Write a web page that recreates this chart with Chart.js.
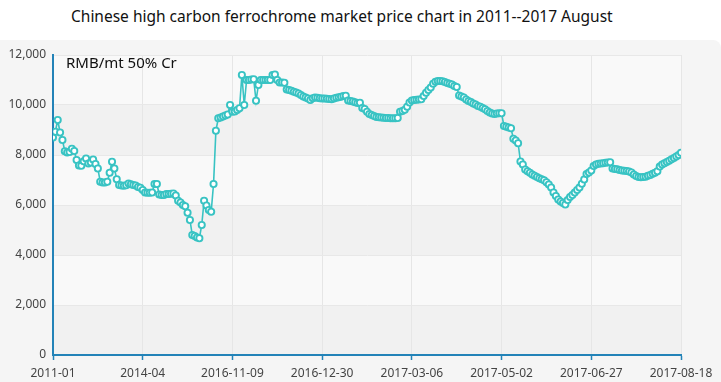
<!DOCTYPE html>
<html>
<head>
<meta charset="utf-8">
<script src="https://cdn.jsdelivr.net/npm/chart.js@4/dist/chart.umd.min.js"></script>
<style>
html,body{margin:0;padding:0;background:#fff;}
#wrap{position:relative;width:721px;height:382px;overflow:hidden;background:#fff;}
#title{position:absolute;left:71px;top:5px;font-family:'Noto Sans',sans-serif;font-size:15.5px;color:#111;white-space:nowrap;}
#panel{position:absolute;left:0;top:40px;width:721px;height:342px;background:#f5f5f5;border-top-right-radius:8px;}
#unit{position:absolute;left:66px;top:52px;font-family:'Noto Sans',sans-serif;font-size:15px;color:#111;white-space:nowrap;}
</style>
</head>
<body>
<div id="wrap">
  <div id="title">Chinese high carbon ferrochrome market price chart in 2011--2017 August</div>
  <div id="panel"><canvas id="c" width="721" height="342"></canvas></div>
  <div id="unit">RMB/mt 50% Cr</div>
</div>
<script>
// Tick labels shown on the category (x) axis, one every labelStep points
const tickLabels = ['2011-01','2014-04','2016-11-09','2016-12-30','2017-03-06','2017-05-02','2017-06-27','2017-08-18'];
const labelStep = 38;
const unitLabel = 'RMB/mt 50% Cr';

// Price series (RMB/mt)
const prices2011to2014 = [
  8700, 8930, 9400, 8900, 8600, 8150, 8100, 8120, 8250, 8160,
  7800, 7580, 7570, 7750, 7860, 7660, 7700, 7820, 7640, 7460,
  6930, 6900, 6900, 6930, 7290, 7730, 7460, 7030, 6800, 6780,
  6770, 6790, 6860, 6830, 6800, 6780, 6720, 6690, 6600
];
const prices2014to2016 = [
  6500, 6490, 6490, 6500, 6840, 6840, 6420, 6400, 6400, 6440,
  6440, 6450, 6460, 6380, 6170, 6100, 6000, 5950, 5690, 5400,
  4800, 4760, 4700, 4670, 5200, 6170, 5980, 5800, 5730, 6840,
  8970, 9470, 9500, 9540, 9580, 9620, 10000, 9730
];
const prices2016end = [
  9740, 9800, 9870, 11200, 10000, 11000, 11000, 11020, 11030, 10170,
  10800, 11000, 11000, 11000, 11000, 11000, 11200, 11220, 11000, 10900,
  10900, 10890, 10620, 10600, 10570, 10530, 10500, 10460, 10400, 10340,
  10300, 10260, 10200, 10270, 10300, 10290, 10270, 10260
];
const prices2017q1 = [
  10260, 10250, 10240, 10230, 10260, 10290, 10310, 10330, 10360, 10370,
  10180, 10160, 10140, 10110, 10080, 10090, 9880, 9840, 9730, 9640,
  9600, 9560, 9520, 9510, 9500, 9490, 9480, 9480, 9470, 9470,
  9470, 9480, 9730, 9760, 9810, 9930, 10100, 10180
];
const prices2017spring = [
  10200, 10210, 10220, 10230, 10360, 10490, 10600, 10700, 10850, 10930,
  10960, 10960, 10950, 10920, 10880, 10850, 10820, 10760, 10720, 10380,
  10340, 10300, 10220, 10160, 10120, 10060, 10020, 9960, 9930, 9880,
  9830, 9760, 9700, 9660, 9640, 9660, 9670, 9670
];
const prices2017summer = [
  9160, 9130, 9100, 9070, 8650, 8580, 8470, 7740, 7620, 7420,
  7350, 7290, 7220, 7170, 7120, 7070, 7030, 6990, 6910, 6820,
  6700, 6500, 6360, 6220, 6140, 6080, 6020, 6200, 6320, 6400,
  6500, 6600, 6700, 6850, 7020, 7240, 7300, 7380
];
const prices2017aug = [
  7560, 7620, 7650, 7660, 7670, 7690, 7700, 7710, 7460, 7440,
  7430, 7400, 7380, 7370, 7360, 7340, 7300, 7220, 7160, 7120,
  7110, 7120, 7130, 7170, 7200, 7250, 7290, 7350, 7540, 7620,
  7670, 7720, 7770, 7830, 7880, 7940, 8000, 8090
];
const yTicks = [0, 2000, 4000, 6000, 8000, 10000, 12000];

const prices = [].concat(prices2011to2014, prices2014to2016, prices2016end, prices2017q1,
  prices2017spring, prices2017summer, prices2017aug);
const points = prices.map((v, i) => ({x: i, y: v}));

const AXIS = '#2383b8';
const LINE = '#38c3c3';
const FONT = "'Noto Sans', sans-serif";

const bandPlugin = {
  id: 'bands',
  beforeDraw(chart) {
    const {ctx, chartArea: a, scales: {y}} = chart;
    ctx.save();
    for (let k = 0; k < yTicks.length - 1; k++) {
      const y0 = y.getPixelForValue(yTicks[k]);
      const y1 = y.getPixelForValue(yTicks[k + 1]);
      ctx.fillStyle = (k % 2 === 0) ? '#f1f1f1' : '#f9f9f9';
      ctx.fillRect(a.left, y1, a.right - a.left, y0 - y1);
    }
    ctx.restore();
  }
};

new Chart(document.getElementById('c'), {
  type: 'line',
  data: {
    datasets: [{
      data: points,
      borderColor: LINE,
      borderWidth: 1.6,
      pointRadius: 3.1,
      pointBorderWidth: 1.9,
      pointBackgroundColor: '#ffffff',
      pointBorderColor: LINE,
      tension: 0,
      fill: false
    }]
  },
  options: {
    responsive: false,
    animation: false,
    layout: {padding: {left: 0, top: 15, right: 40, bottom: 0}},
    plugins: {legend: {display: false}, tooltip: {enabled: false}, title: {display: false}},
    scales: {
      x: {
        type: 'linear',
        min: 0,
        max: labelStep * (tickLabels.length - 1),
        afterBuildTicks: (s) => { s.ticks = tickLabels.map((_, k) => ({value: k * labelStep})); },
        afterFit: (s) => { s.height = 27; },
        ticks: {
          autoSkip: false,
          maxRotation: 0,
          padding: 6,
          color: '#444',
          font: {family: FONT, size: 12},
          callback: (v) => tickLabels[Math.round(v / labelStep)]
        },
        grid: {color: '#e6e6e6', lineWidth: 1, tickColor: AXIS, tickLength: 5, tickWidth: 1.5},
        border: {color: AXIS, width: 2}
      },
      y: {
        min: 0,
        max: 12000,
        afterBuildTicks: (s) => { s.ticks = yTicks.map(v => ({value: v})); },
        afterFit: (s) => { s.width = 53; },
        ticks: {
          padding: 7,
          color: '#444',
          font: {family: FONT, size: 12},
          callback: (v) => v.toLocaleString('en-US')
        },
        grid: {color: '#e8e8e8', lineWidth: 1, drawTicks: false},
        border: {color: AXIS, width: 2}
      }
    }
  },
  plugins: [bandPlugin]
});
</script>
</body>
</html>
